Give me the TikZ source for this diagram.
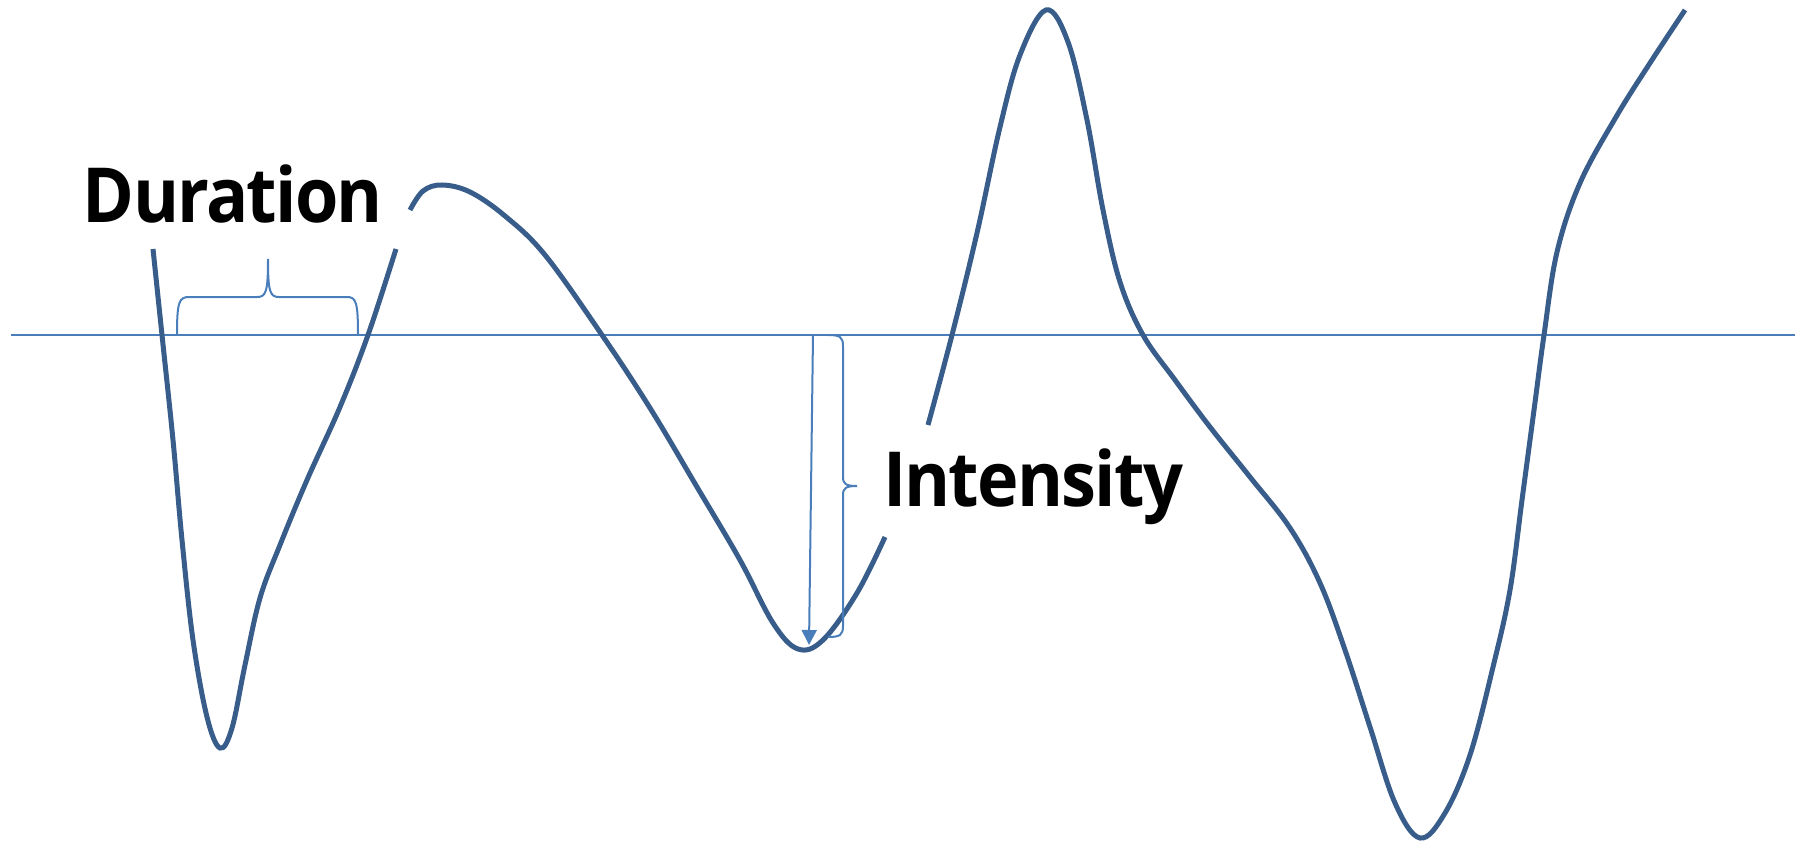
\documentclass[tikz,border=0pt]{standalone}
\usepackage{fontspec}
\setmainfont{Open Sans}
\newfontfamily\labelfont{Open Sans}[UprightFont=*-Bold,LetterSpace=-2.5]
\usetikzlibrary{arrows.meta}
\definecolor{wave}{RGB}{56,93,138}
\definecolor{guide}{RGB}{74,126,187}
\begin{document}
\begin{tikzpicture}[x=1pt,y=-1pt,
  wavestyle/.style={draw=wave,line width=5pt,line cap=butt},
  guidestyle/.style={draw=guide,line width=2pt},
  labelstyle/.style={font=\fontsize{76}{90}\selectfont,inner sep=0pt,anchor=base}]
\useasboundingbox (0,0) rectangle (1799,845);
% axis
\coordinate (axL) at (11,335);
\coordinate (axR) at (1795,335);
\draw[guidestyle] (axL) -- (axR);
% wave segments
\draw[wavestyle] plot[smooth,tension=0.6] coordinates {
 (153,249) (162,335) (173,440) (182,540) (193,640) (207,717) (220,748) (232,728)
 (245,665) (260,598) (280,545) (307,480) (340,407) (368,335) (396,249)};
\draw[wavestyle] plot[smooth,tension=0.6] coordinates {
 (410,210) (423,191) (442,185) (470,192) (505,216) (545,255) (602,335) (650,408)
 (697,487) (740,560) (773,623) (798,649) (823,640) (857,593) (885,537)};
\draw[wavestyle] plot[smooth,tension=0.6] coordinates {
 (928,425) (952,335) (977,233) (1000,127) (1020,55) (1046,10) (1068,42) (1087,120)
 (1103,210) (1120,282) (1143,335) (1175,380) (1210,427) (1250,477) (1290,528)
 (1320,583) (1345,650) (1370,727) (1395,803) (1420,838) (1445,813) (1470,755)
 (1493,667) (1510,590) (1522,500) (1534,410) (1544,335) (1557,252) (1580,183)
 (1616,117) (1650,63) (1685,10)};
% duration brace
\coordinate (dL) at (177,335);
\coordinate (dT) at (268,259);
\coordinate (dR) at (358,335);
\draw[guidestyle] (dL) .. controls (177,302) and (179,297) .. (189,297) -- (257,297)
  .. controls (266,297) and (268,292) .. (dT)
  .. controls (268,292) and (270,297) .. (279,297) -- (347,297)
  .. controls (356,297) and (358,302) .. (dR);
% intensity arrow
\coordinate (aS) at (813,335);
\coordinate (aE) at (809,645);
\draw[guidestyle,-{Triangle[length=15pt,width=15pt]}] (aS) -- (aE);
% intensity brace
\coordinate (iT) at (828,335);
\coordinate (iM) at (857,486);
\coordinate (iB) at (828,637);
\draw[guidestyle] (iT) .. controls (840,335) and (843,337) .. (843,346) -- (843,477)
  .. controls (843,484) and (846,486) .. (iM)
  .. controls (846,486) and (843,488) .. (843,495) -- (843,626)
  .. controls (843,635) and (840,637) .. (iB);
% labels
\node[labelstyle] (duration) at (233,223) {\resizebox{300pt}{\height}{\labelfont Duration}};
\node[labelstyle] (intensity) at (1033,506) {\resizebox{300pt}{\height}{\labelfont Intensity}};
\end{tikzpicture}
\end{document}
